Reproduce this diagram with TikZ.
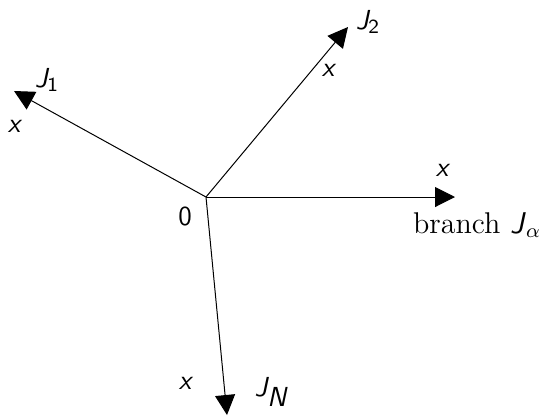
\documentclass[tikz,border=0pt]{standalone}
\usetikzlibrary{arrows.meta}

\newcommand{\sfit}[1]{\textsf{\itshape #1}}

\begin{document}
\begin{tikzpicture}[x=0.4pt, y=-0.4pt,
    branch/.style={thin, -{Triangle[length=8pt,width=8pt]}},
    lbl/.style={inner sep=0pt, font=\fontsize{11}{13}\selectfont\sffamily\itshape}]

  % --- Rahmen (540 x 416 px) ---
  \useasboundingbox (0,0) rectangle (540,416);

  % --- Knoten ---
  \coordinate (O) at (206,197);
  \coordinate (t1) at (14,91);
  \coordinate (t2) at (348,27);
  \coordinate (ta) at (455,197);
  \coordinate (tN) at (227,415);

  % --- Zweige ---
  \draw[branch] (O) -- (t1);
  \draw[branch] (O) -- (t2);
  \draw[branch] (O) -- (ta);
  \draw[branch] (O) -- (tN);

  % --- Beschriftungen ---
  \node[lbl] (zero) at (185,216) {\upshape 0};
  \node[lbl] (J1) at (47,80) {J$_{\mathsf{1}}$};
  \node[lbl] (x1) at (14,126) {x};
  \node[lbl] (J2) at (368,22) {J$_{\mathsf{2}}$};
  \node[lbl] (x2) at (328,70) {x};
  \node[lbl] (xa) at (442,170) {x};
  \node[inner sep=0pt, font=\fontsize{12}{14}\selectfont] (Ja) at (477,225) {branch \sfit{J}$_\alpha$};
  \node[lbl] (JN) at (271,392) {J$_{\textsf{\itshape N}}$};
  \node[lbl] (xN) at (185,383) {x};

\end{tikzpicture}
\end{document}
